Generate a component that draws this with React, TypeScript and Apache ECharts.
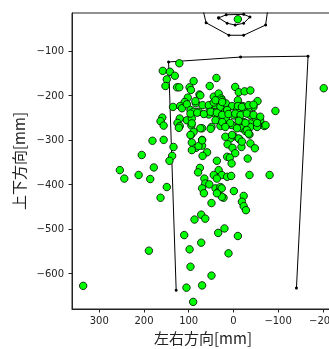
import React, { useEffect, useRef } from "react";
import * as echarts from "echarts";

// Scatter points: [左右方向 mm, 上下方向 mm]
const points: number[][] = [
  [121, -128], [158, -145], [142, -147], [131, -156], [149, -164], [152, -179],
  [126, -182], [121, -182], [98, -182], [89, -168], [38, -161], [53, -179],
  [95, -188], [76, -198], [102, -205], [109, -215], [135, -226], [119, -224],
  [115, -229], [104, -220], [96, -233], [84, -218], [69, -222], [78, -237],
  [89, -237], [53, -229], [40, -222], [44, -203], [33, -196], [27, -207],
  [29, -226], [42, -241], [55, -243], [19, -237], [17, -218], [33, -256],
  [17, -252], [159, -250], [163, -258], [120, -252], [125, -262], [104, -256],
  [93, -252], [94, -268], [156, -268], [120, -269], [70, -274], [49, -271],
  [19, -268],
  [-4, -181], [-12, -193], [-25, -191], [-38, -189], [-54, -213], [-45, -226],
  [-94, -235], [-10, -211], [3, -224], [26, -211], [-21, -224], [-33, -229],
  [-23, -237], [-8, -233], [14, -233], [29, -245], [-1, -245], [-38, -245],
  [-51, -254], [-60, -257], [-69, -269], [-55, -267], [-38, -263], [-23, -260],
  [-13, -256], [7, -265], [-27, -273], [-12, -271],
  [122, -273], [29, -269], [181, -302], [156, -300], [134, -316], [95, -289],
  [93, -306], [70, -300], [70, -313], [84, -318], [93, -323], [59, -328],
  [69, -336], [137, -336], [143, -347], [205, -334], [178, -362], [186, -388],
  [149, -406], [212, -379], [163, -430], [37, -347], [75, -363], [79, -373],
  [33, -368], [44, -379], [26, -379], [37, -387], [65, -387], [63, -398],
  [54, -400], [70, -409], [66, -420], [40, -409], [34, -417], [29, -406],
  [22, -430], [14, -383], [14, -338],
  [3, -267], [-19, -274], [-38, -271], [-53, -271], [-27, -280], [-36, -288],
  [-1, -292], [7, -297], [-13, -298], [13, -310], [2, -318], [-18, -316],
  [-38, -308], [-48, -319], [-4, -330], [8, -340], [-32, -342], [5, -381],
  [-36, -379], [-81, -379], [-1, -415], [-23, -426], [26, -409], [26, -428],
  [254, -368], [244, -387], [-202, -184],
  [49, -442], [-19, -439], [-23, -449], [-28, -458], [87, -479], [72, -468],
  [63, -477], [4, -353], [18, -293], [78, -314], [37, -420],
  [110, -514], [34, -509], [20, -499], [-10, -516], [72, -531], [98, -546],
  [11, -555], [189, -549], [96, -585], [49, -605], [336, -628], [105, -632],
  [70, -627], [90, -664],
  [-10, -29],
  // dense core
  [74, -200], [85, -213], [55, -222], [44, -216], [40, -211], [25, -215],
  [-10, -224], [-19, -226], [-34, -222], [-45, -221],
  [96, -241], [81, -239], [66, -242], [51, -237], [37, -239], [25, -244],
  [11, -242], [-4, -241], [-16, -244], [-30, -241], [-45, -244], [-60, -248],
  [40, -256], [25, -260], [7, -262], [-12, -257], [-27, -262], [-53, -262],
  [-72, -267], [74, -274], [51, -275], [18, -271], [-8, -274], [-30, -278],
  [-34, -286], [93, -263], [89, -282], [96, -289], [3, -289], [-12, -297],
  [-19, -304], [70, -301],
];

// Outline frames
const frameLine: number[][] = [
  [128, -638], [145, -125], [-16, -114], [-167, -112], [-141, -633],
];
const headOuter: number[][] = [
  [70, 0], [61, -37], [10, -65], [-23, -65], [-72, -42], [-78, 0],
];
const headInner: number[][] = [
  [33, -26], [16, -19], [-23, -18], [-37, -24], [-23, -38], [-4, -42], [14, -38], [33, -26],
];

const xTicks = [300, 200, 100, 0, -100, -200];
const yTicks = [-600, -500, -400, -300, -200, -100];

const fmt = (v: number) => (v < 0 ? "\u2212" + Math.abs(v) : String(v));

export default function App() {
  const ref = useRef<HTMLDivElement>(null);
  useEffect(() => {
    if (!ref.current) return;
    const chart = echarts.init(ref.current, null, { renderer: "svg" });
    const axisColor = "#222";
    const lineSeries = (data: number[][]) => ({
      type: "line",
      data,
      clip: true,
      symbol: "circle",
      symbolSize: 3,
      lineStyle: { color: "#000", width: 1 },
      itemStyle: { color: "#000" },
      z: 2,
    });
    chart.setOption({
      animation: false,
      grid: {
        left: 72,
        top: 13,
        width: 262,
        height: 296,
        containLabel: false,
        outerBoundsMode: "none",
        show: true,
        borderColor: axisColor,
        borderWidth: 1,
        backgroundColor: "transparent",
      },
      xAxis: {
        type: "value",
        inverse: true,
        min: -225,
        max: 361,
        name: "左右方向[mm]",
        nameLocation: "middle",
        nameGap: 21,
        nameTextStyle: { fontSize: 15, color: "#222", fontFamily: "Noto Sans CJK JP" },
        axisLine: { show: true, onZero: false, lineStyle: { color: axisColor, width: 1 } },
        axisTick: { show: true, length: 3.5, customValues: xTicks, lineStyle: { color: axisColor } },
        axisLabel: {
          customValues: xTicks,
          formatter: fmt,
          fontSize: 10,
          color: "#222",
          fontFamily: "DejaVu Sans",
          margin: 6,
          hideOverlap: false,
        },
        splitLine: { show: false },
      },
      yAxis: {
        type: "value",
        min: -680,
        max: -15,
        name: "上下方向[mm]",
        nameLocation: "middle",
        nameGap: 44,
        nameRotate: 90,
        nameTextStyle: { fontSize: 15, color: "#222", fontFamily: "Noto Sans CJK JP" },
        axisLine: { show: true, onZero: false, lineStyle: { color: axisColor, width: 1 } },
        axisTick: { show: true, length: 3.5, customValues: yTicks, lineStyle: { color: axisColor } },
        axisLabel: {
          customValues: yTicks,
          formatter: fmt,
          fontSize: 10,
          color: "#222",
          fontFamily: "DejaVu Sans",
          margin: 8,
        },
        splitLine: { show: false },
      },
      series: [
        lineSeries(frameLine),
        lineSeries(headOuter),
        lineSeries(headInner),
        {
          type: "scatter",
          data: points,
          symbolSize: 7.5,
          itemStyle: { color: "#00ff00", borderColor: "#000", borderWidth: 0.8, opacity: 1 },
          z: 3,
        },
      ],
    });
    return () => chart.dispose();
  }, []);
  return (
    <div
      ref={ref}
      style={{ position: "fixed", left: 0, top: 0, width: 329, height: 349 }}
    />
  );
}
